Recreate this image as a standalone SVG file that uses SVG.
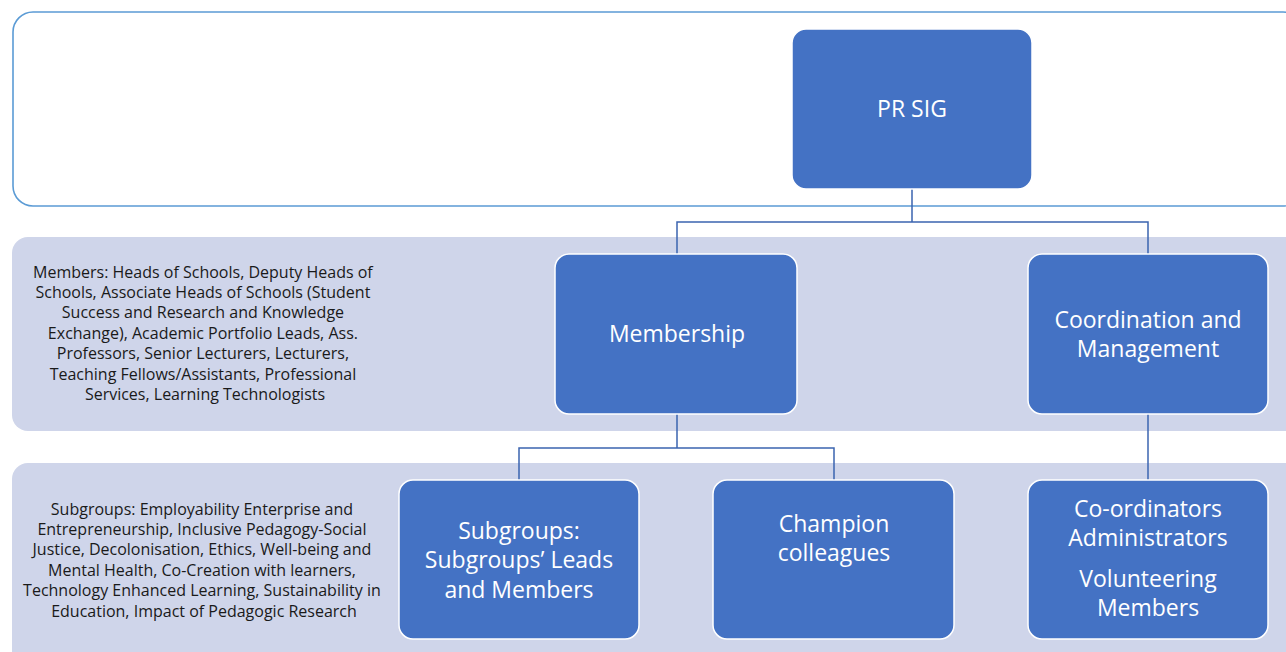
<svg xmlns="http://www.w3.org/2000/svg" width="1286" height="652" viewBox="0 0 1286 652">
  <style>
    .band { fill: #CFD5EA; }
    .frame { fill: #FFFFFF; stroke: #5B9BD5; stroke-width: 1.6; }
    .node rect { fill: #4472C4; stroke: #FFFFFF; stroke-width: 1.5; }
    .node text { fill: #FFFFFF; font-family: "Open Sans", "Noto Sans", sans-serif; font-size: 23px; text-anchor: middle; }
    .note { fill: #1A1A1A; font-family: "Open Sans", "Noto Sans", sans-serif; font-size: 16px; text-anchor: middle; }
    .link { fill: none; stroke: #3B64B0; stroke-width: 1.5; }
  </style>

  <!-- background panels -->
  <rect class="frame" x="13" y="12" width="1290" height="194" rx="20"/>
  <rect class="band" x="12" y="237" width="1290" height="194" rx="16"/>
  <rect class="band" x="12" y="463" width="1290" height="210" rx="16"/>

  <!-- side notes -->
  <text class="note" id="members-note">
    <tspan x="205" y="277.5">Members: Heads of Schools, Deputy Heads of</tspan>
    <tspan x="205" y="297.9">Schools, Associate Heads of Schools (Student</tspan>
    <tspan x="205" y="318.3">Success and Research and Knowledge</tspan>
    <tspan x="205" y="338.7">Exchange), Academic Portfolio Leads, Ass.</tspan>
    <tspan x="205" y="359.1">Professors, Senior Lecturers, Lecturers,</tspan>
    <tspan x="205" y="379.5">Teaching Fellows/Assistants, Professional</tspan>
    <tspan x="205" y="399.9">Services, Learning Technologists</tspan>
  </text>
  <text class="note" id="subgroups-note">
    <tspan x="204" y="514.5">Subgroups: Employability Enterprise and</tspan>
    <tspan x="204" y="534.9">Entrepreneurship, Inclusive Pedagogy-Social</tspan>
    <tspan x="204" y="555.3">Justice, Decolonisation, Ethics, Well-being and</tspan>
    <tspan x="204" y="575.7">Mental Health, Co-Creation with learners,</tspan>
    <tspan x="204" y="596.1">Technology Enhanced Learning, Sustainability in</tspan>
    <tspan x="204" y="616.5">Education, Impact of Pedagogic Research</tspan>
  </text>

  <!-- connectors -->
  <g id="connectors">
    <path class="link" d="M912 189 V222 H677 V254 M912 222 H1148 V254"/>
    <path class="link" d="M677 414 V448 H519 V480 M677 448 H834 V480"/>
    <path class="link" d="M1148 414 V480"/>
  </g>

  <!-- nodes -->
  <g class="node" id="pr-sig">
    <rect x="792" y="29" width="240" height="160" rx="14"/>
    <text x="912" y="117">PR SIG</text>
  </g>
  <g class="node" id="membership">
    <rect x="555" y="254" width="242" height="160" rx="14"/>
    <text x="677" y="342">Membership</text>
  </g>
  <g class="node" id="coordination">
    <rect x="1028" y="254" width="240" height="160" rx="14"/>
    <text x="1148" y="328">Coordination and</text>
    <text x="1148" y="357">Management</text>
  </g>
  <g class="node" id="subgroups">
    <rect x="399" y="480" width="240" height="159" rx="14"/>
    <text x="519" y="539">Subgroups:</text>
    <text x="519" y="568">Subgroups’ Leads</text>
    <text x="519" y="598">and Members</text>
  </g>
  <g class="node" id="champions">
    <rect x="713" y="480" width="241" height="159" rx="14"/>
    <text x="834" y="532">Champion</text>
    <text x="834" y="561">colleagues</text>
  </g>
  <g class="node" id="coordinators">
    <rect x="1028" y="480" width="240" height="159" rx="14"/>
    <text x="1148" y="517">Co-ordinators</text>
    <text x="1148" y="546">Administrators</text>
    <text x="1148" y="587">Volunteering</text>
    <text x="1148" y="616">Members</text>
  </g>
</svg>
